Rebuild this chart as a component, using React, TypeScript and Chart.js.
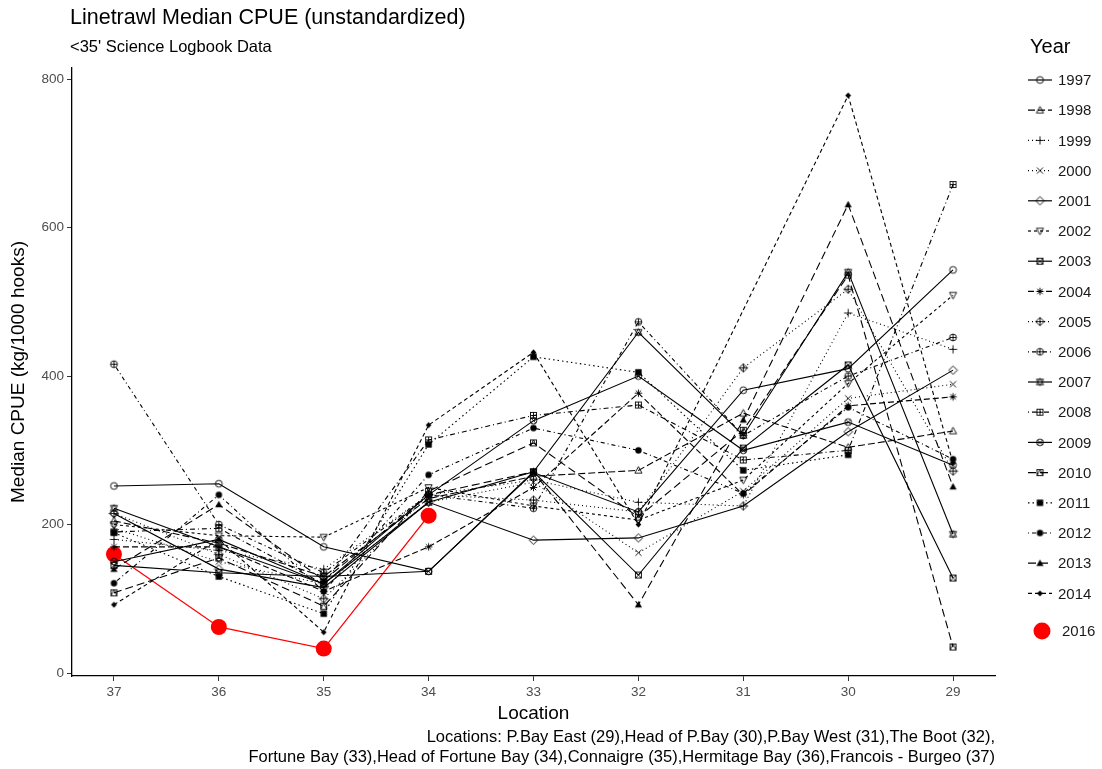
import React, { useEffect, useRef } from "react";
import { Chart, registerables } from "chart.js";

Chart.register(...registerables);

const locations = [37, 36, 35, 34, 33, 32, 31, 30, 29];
const yTicks = [0, 200, 400, 600, 800];
const years = ["1997","1998","1999","2000","2001","2002","2003","2004","2005","2006","2007","2008","2009","2010","2011","2012","2013","2014"];

const s1997 = [252, 255, 170, 137, 270, 217, 381, 410, 543];
const s1998 = [205, 175, 130, 235, 265, 273, 350, 304, 326];
const s1999 = [180, 165, 140, 240, 260, 230, 225, 485, 436];
const s2000 = [195, 150, 120, 230, 257, 162, 245, 370, 389];
const s2001 = [215, 140, 115, 230, 179, 182, 225, 325, 408];
const s2002 = [200, 185, 183, 250, 225, 206, 260, 390, 509];
const s2003 = [145, 135, 130, 137, 271, 132, 303, 415, 128];
const s2004 = [170, 170, 110, 170, 250, 377, 240, 360, 372];
const s2005 = [215, 160, 100, 240, 233, 217, 411, 517, 272];
const s2006 = [416, 200, 135, 240, 222, 473, 320, 400, 452];
const s2007 = [222, 170, 120, 230, 271, 459, 320, 540, 187];
const s2008 = [190, 195, 120, 314, 347, 361, 287, 300, 658];
const s2009 = [150, 180, 120, 240, 340, 400, 300, 338, 280];
const s2010 = [108, 155, 90, 245, 310, 210, 327, 536, 35];
const s2011 = [189, 130, 80, 308, 426, 405, 273, 294, null];
const s2012 = [121, 240, 110, 267, 330, 300, 242, 358, 288];
const s2013 = [140, 227, 125, 240, 271, 92, 341, 631, 251];
const s2014 = [92, 180, 55, 334, 432, 200, null, 778, 283];
const s2016 = [160, 62, 33, 212];

const seriesValues = [s1997,s1998,s1999,s2000,s2001,s2002,s2003,s2004,s2005,s2006,s2007,s2008,s2009,s2010,s2011,s2012,s2013,s2014];
const dashes: number[][] = [
  [], [7,3], [1,3], [1,3], [], [3,3], [], [6,3], [1,3], [1,3,4,3],
  [], [1,3,5,3], [], [8,4], [1.5,3], [1,3,4,3], [8,4], [4,3],
];

type Draw = (g: CanvasRenderingContext2D) => void;
function mk(draw: Draw): HTMLCanvasElement {
  const c = document.createElement("canvas");
  c.width = 11; c.height = 11;
  const g = c.getContext("2d")!;
  g.strokeStyle = "#000"; g.fillStyle = "#000"; g.lineWidth = 0.9;
  g.translate(5.5, 5.5);
  draw(g);
  return c;
}
const r = 3.4;
const circ = (g: CanvasRenderingContext2D) => { g.beginPath(); g.arc(0,0,r,0,Math.PI*2); g.stroke(); };
const tri = (g: CanvasRenderingContext2D, fill = false) => { g.beginPath(); g.moveTo(0,-r*1.1); g.lineTo(r*1.05,r*0.8); g.lineTo(-r*1.05,r*0.8); g.closePath(); fill ? g.fill() : g.stroke(); };
const itri = (g: CanvasRenderingContext2D) => { g.beginPath(); g.moveTo(0,r*1.1); g.lineTo(r*1.05,-r*0.8); g.lineTo(-r*1.05,-r*0.8); g.closePath(); g.stroke(); };
const plus = (g: CanvasRenderingContext2D, k = 1.2) => { g.beginPath(); g.moveTo(-r*k,0); g.lineTo(r*k,0); g.moveTo(0,-r*k); g.lineTo(0,r*k); g.stroke(); };
const xx = (g: CanvasRenderingContext2D, k = 0.9) => { g.beginPath(); g.moveTo(-r*k,-r*k); g.lineTo(r*k,r*k); g.moveTo(r*k,-r*k); g.lineTo(-r*k,r*k); g.stroke(); };
const diam = (g: CanvasRenderingContext2D, k = 1.25, fill = false) => { g.beginPath(); g.moveTo(0,-r*k); g.lineTo(r*k,0); g.lineTo(0,r*k); g.lineTo(-r*k,0); g.closePath(); fill ? g.fill() : g.stroke(); };
const sq = (g: CanvasRenderingContext2D) => { g.strokeRect(-3,-3,6,6); };

function makeMarkers(): HTMLCanvasElement[] {
  return [
    mk(g => circ(g)),
    mk(g => tri(g)),
    mk(g => plus(g)),
    mk(g => xx(g)),
    mk(g => diam(g)),
    mk(g => itri(g)),
    mk(g => { sq(g); xx(g, 0.88); }),
    mk(g => { plus(g, 1.1); xx(g, 0.8); }),
    mk(g => { diam(g); plus(g, 1.25); }),
    mk(g => { circ(g); plus(g, 1.0); }),
    mk(g => { tri(g); itri(g); }),
    mk(g => { sq(g); plus(g, 0.88); }),
    mk(g => { circ(g); xx(g, 0.7); }),
    mk(g => { sq(g); g.beginPath(); g.moveTo(-3,3); g.lineTo(0,-3); g.lineTo(3,3); g.stroke(); }),
    mk(g => { g.fillRect(-3.2,-3.2,6.4,6.4); }),
    mk(g => { g.beginPath(); g.arc(0,0,3.2,0,Math.PI*2); g.fill(); }),
    mk(g => tri(g, true)),
    mk(g => diam(g, 0.85, true)),
  ];
}

const FONT = "'Liberation Sans', Arial, sans-serif";

export default function App() {
  const ref = useRef<HTMLCanvasElement | null>(null);
  useEffect(() => {
    document.body.style.margin = "0";
    const markers = makeMarkers();
    const datasets: any[] = seriesValues.map((vals, i) => ({
      label: years[i],
      data: locations.map((x, j) => ({ x, y: vals[j] })).filter(p => p.y !== null),
      borderColor: "#000",
      backgroundColor: "#000",
      borderWidth: 1.1,
      borderDash: dashes[i],
      pointStyle: markers[i],
      pointRadius: 4,
      spanGaps: true,
    }));
    datasets.push({
      label: "2016",
      data: s2016.map((y, j) => ({ x: locations[j], y })),
      borderColor: "#ff0000",
      backgroundColor: "#ff0000",
      borderWidth: 1.3,
      pointStyle: "circle",
      pointRadius: 8,
      pointBorderWidth: 0,
    });

    const textPlugin = {
      id: "texts",
      afterDraw(chart: any) {
        const ctx = chart.ctx as CanvasRenderingContext2D;
        ctx.save();
        ctx.fillStyle = "#000";
        ctx.textBaseline = "middle";
        ctx.textAlign = "left";
        ctx.font = `21.5px ${FONT}`;
        ctx.fillText("Linetrawl Median CPUE (unstandardized)", 70, 18);
        ctx.font = `16.5px ${FONT}`;
        ctx.fillText("<35' Science Logbook Data", 70, 47);
        // axis titles
        ctx.font = `19px ${FONT}`;
        ctx.textAlign = "center";
        const ca = chart.chartArea;
        ctx.fillText("Location", (ca.left + ca.right) / 2, 714);
        ctx.save();
        ctx.translate(19, (ca.top + ca.bottom) / 2);
        ctx.rotate(-Math.PI / 2);
        ctx.fillText("Median CPUE (kg/1000 hooks)", 0, 0);
        ctx.restore();
        // caption
        ctx.font = `16.5px ${FONT}`;
        ctx.textAlign = "right";
        ctx.fillText("Locations: P.Bay East (29),Head of P.Bay (30),P.Bay West (31),The Boot (32),", 995, 737);
        ctx.fillText("Fortune Bay (33),Head of Fortune Bay (34),Connaigre (35),Hermitage Bay (36),Francois - Burgeo (37)", 995, 757);
        // legend
        ctx.textAlign = "left";
        ctx.font = `20px ${FONT}`;
        ctx.fillText("Year", 1030, 47);
        ctx.font = `15px ${FONT}`;
        for (let i = 0; i < years.length; i++) {
          const y = 80 + i * 30.2;
          ctx.save();
          ctx.strokeStyle = "#000";
          ctx.lineWidth = 1.2;
          ctx.setLineDash(dashes[i]);
          ctx.beginPath();
          ctx.moveTo(1028, y);
          ctx.lineTo(1052, y);
          ctx.stroke();
          ctx.restore();
          ctx.drawImage(markers[i], 1040 - 5.5, y - 5.5);
          ctx.fillStyle = "#1a1a1a";
          ctx.fillText(years[i], 1058, y + 1);
        }
        ctx.fillStyle = "#ff0000";
        ctx.beginPath();
        ctx.arc(1042, 631, 8.5, 0, Math.PI * 2);
        ctx.fill();
        ctx.fillStyle = "#1a1a1a";
        ctx.fillText("2016", 1062, 632);
        ctx.restore();
      },
    };

    const chart = new Chart(ref.current!, {
      type: "line",
      data: { datasets },
      options: {
        animation: false,
        responsive: false,
        maintainAspectRatio: false,
        layout: { padding: { left: 0, right: 107, top: 68, bottom: 0 } },
        plugins: { legend: { display: false }, tooltip: { enabled: false }, title: { display: false } },
        scales: {
          x: {
            type: "linear",
            reverse: true,
            min: 28.6,
            max: 37.4,
            afterBuildTicks: (s: any) => { s.ticks = locations.map(v => ({ value: v })); },
            afterFit: (s: any) => { s.height = 93; },
            grid: { display: true, drawOnChartArea: false, drawTicks: true, tickLength: 5, color: "#333", lineWidth: 1 },
            border: { display: true, color: "#000", width: 1.3 },
            ticks: { color: "#4d4d4d", font: { family: FONT, size: 13.5 }, padding: 3, maxRotation: 0, autoSkip: false },
          },
          y: {
            type: "linear",
            min: -4,
            max: 815,
            afterBuildTicks: (s: any) => { s.ticks = yTicks.map(v => ({ value: v })); },
            afterFit: (s: any) => { s.width = 72; },
            grid: { display: true, drawOnChartArea: false, drawTicks: true, tickLength: 5, color: "#333", lineWidth: 1 },
            border: { display: true, color: "#000", width: 1.3 },
            ticks: { color: "#4d4d4d", font: { family: FONT, size: 13.5 }, padding: 3 },
          },
        },
      },
      plugins: [textPlugin],
    } as any);
    return () => chart.destroy();
  }, []);
  return (
    <div style={{ position: "absolute", left: 0, top: 0, width: 1102, height: 769, background: "#fff" }}>
      <canvas ref={ref} width={1102} height={769} style={{ width: 1102, height: 769, display: "block" }} />
    </div>
  );
}
